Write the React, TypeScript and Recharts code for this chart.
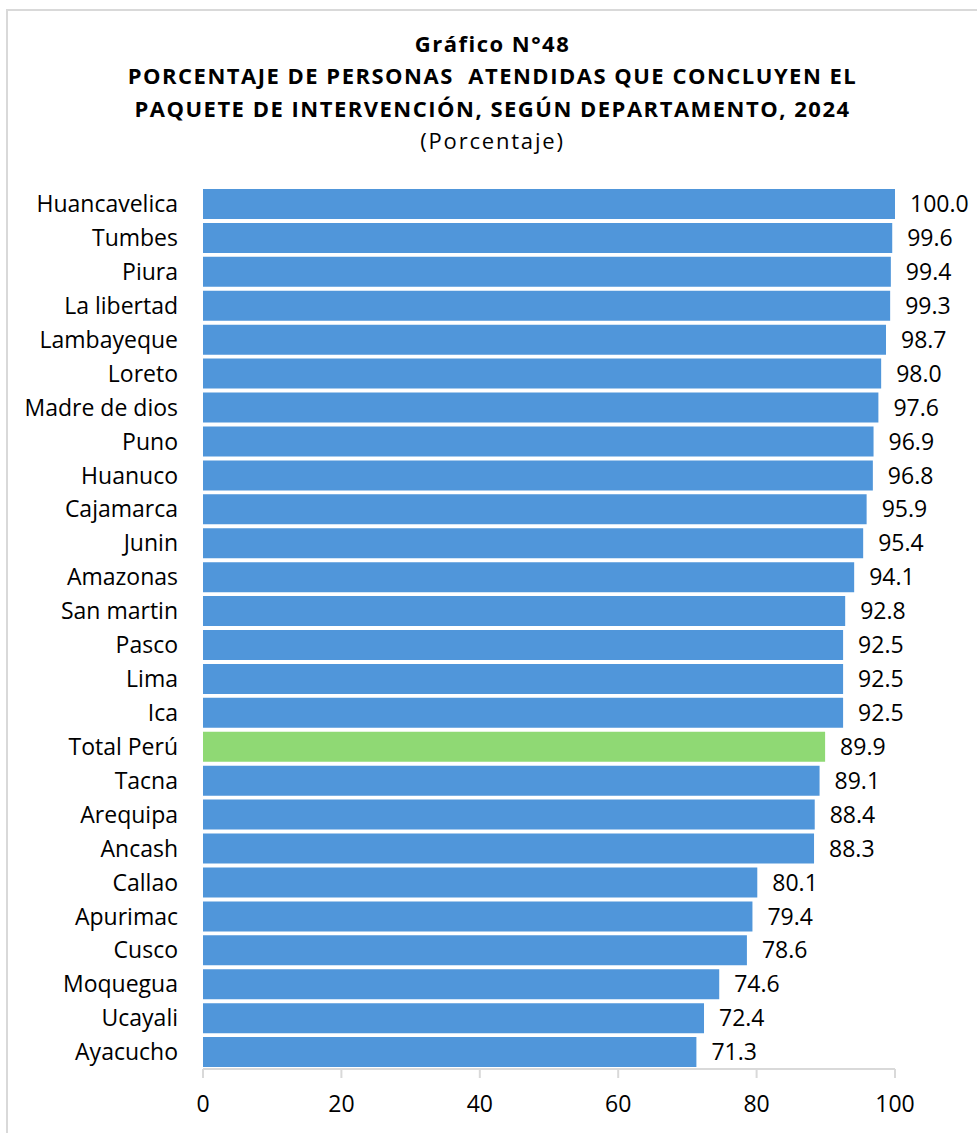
import { BarChart, Bar, XAxis, YAxis, Cell, LabelList } from "recharts";

const departamentos = [
  "Huancavelica", "Tumbes", "Piura", "La libertad", "Lambayeque", "Loreto",
  "Madre de dios", "Puno", "Huanuco", "Cajamarca", "Junin", "Amazonas",
  "San martin", "Pasco", "Lima", "Ica", "Total Perú", "Tacna", "Arequipa",
  "Ancash", "Callao", "Apurimac", "Cusco", "Moquegua", "Ucayali", "Ayacucho",
];

const porcentajes = [
  100.0, 99.6, 99.4, 99.3, 98.7, 98.0, 97.6, 96.9, 96.8, 95.9, 95.4, 94.1,
  92.8, 92.5, 92.5, 92.5, 89.9, 89.1, 88.4, 88.3, 80.1, 79.4, 78.6, 74.6,
  72.4, 71.3,
];

const xTicks = [0, 20, 40, 60, 80, 100];

const FONT = "'Open Sans', 'Noto Sans', sans-serif";
const BLUE = "#5096DA";
const GREEN = "#8FD974";
const GRIS = "#d9d9d9";

const data = departamentos.map((d, i) => ({ dep: d, valor: porcentajes[i] }));

const titleLine = (text: string, top: number, bold = true) => (
  <div
    style={{
      position: "absolute",
      left: 0,
      width: 985,
      top,
      textAlign: "center",
      fontFamily: FONT,
      fontSize: 22,
      fontWeight: bold ? 700 : 400,
      letterSpacing: bold ? 1.5 : 1.8,
      lineHeight: "26px",
      whiteSpace: "pre",
      color: "#000",
    }}
  >
    {text}
  </div>
);

export default function App() {
  return (
    <div style={{ position: "absolute", left: 0, top: 0, width: 977, height: 1133, background: "#fff" }}>
      <div
        style={{
          position: "absolute",
          left: 6,
          top: 9,
          width: 971,
          height: 1124,
          borderLeft: `2px solid ${GRIS}`,
          borderTop: `2px solid ${GRIS}`,
          boxSizing: "border-box",
        }}
      />
      {titleLine("Gráfico N°48", 30)}
      {titleLine("PORCENTAJE DE PERSONAS  ATENDIDAS QUE CONCLUYEN EL", 62)}
      {titleLine("PAQUETE DE INTERVENCIÓN, SEGÚN DEPARTAMENTO, 2024", 95)}
      {titleLine("(Porcentaje)", 127, false)}
      <BarChart
        width={977}
        height={1133}
        data={data}
        layout="vertical"
        margin={{ top: 187, right: 82, bottom: 30, left: 0 }}
        style={{ position: "absolute", left: 0, top: 0 }}
      >
        <XAxis
          type="number"
          domain={[0, 100]}
          ticks={xTicks}
          interval={0}
          height={34}
          axisLine={{ stroke: GRIS, strokeWidth: 2 }}
          tickLine={{ stroke: GRIS, strokeWidth: 2 }}
          tickSize={9}
          tickMargin={18}
          tick={{ fontSize: 23, fill: "#000", fontFamily: FONT }}
        />
        <YAxis
          type="category"
          dataKey="dep"
          width={203}
          axisLine={false}
          tickLine={false}
          tickSize={6}
          tickMargin={19}
          interval={0}
          tick={{ fontSize: 23, fill: "#000", fontFamily: FONT }}
        />
        <Bar dataKey="valor" barSize={30} isAnimationActive={false}>
          {data.map((entry, index) => (
            <Cell key={`cell-${index}`} fill={entry.dep === "Total Perú" ? GREEN : BLUE} />
          ))}
          <LabelList
            dataKey="valor"
            position="right"
            offset={15}
            formatter={(v: number) => v.toFixed(1)}
            style={{ fontSize: 23, fill: "#000", fontFamily: FONT }}
          />
        </Bar>
      </BarChart>
    </div>
  );
}
